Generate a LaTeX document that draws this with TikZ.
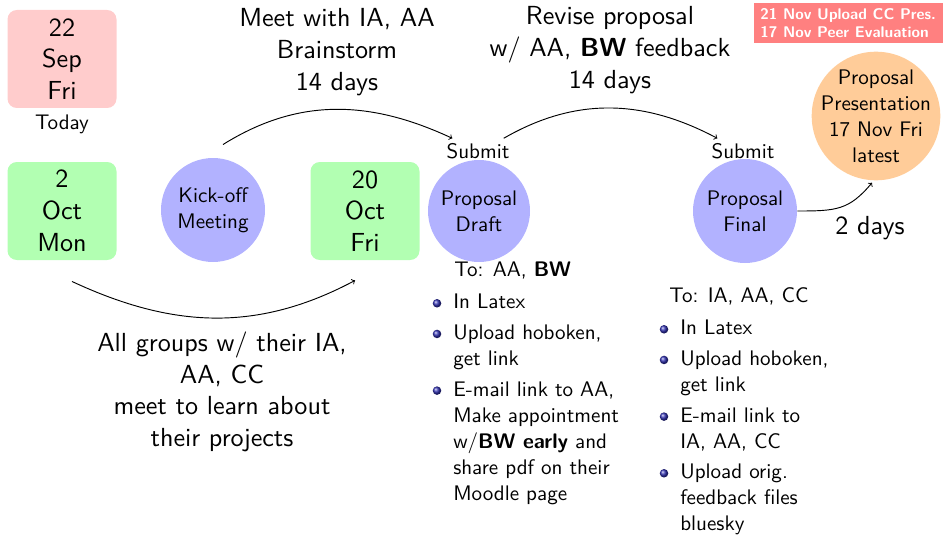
\documentclass[tikz,border=0pt]{standalone}
\usepackage{fontspec}
\setsansfont{lmsans10-regular}[Extension=.otf, BoldFont=lmsans10-bold]
\usepackage{tikz}

\definecolor{ballblue}{rgb}{0.2,0.2,0.7}
\newcommand{\bigtxt}{\sffamily\fontsize{19.6}{23.8}\selectfont}
\newcommand{\midtxt}{\sffamily\fontsize{15.8}{19.5}\selectfont}
\newcommand{\tagtxt}{\sffamily\bfseries\fontsize{11.6}{13.5}\selectfont}
\newcommand{\itemball}{\llap{\raisebox{1pt}{\tikz\shade[ball color=ballblue] (0,0) circle (3.2pt);}\hspace{9pt}}}

\tikzset{every picture/.style={line width=0.7pt}}
\tikzset{
  datebox/.style={rounded corners=7pt, minimum width=81.75pt, minimum height=73.5pt, inner sep=0, align=center, font=\bigtxt},
  stepcircle/.style={circle, fill=blue!30, minimum size=78pt, inner sep=0, align=center, font=\midtxt},
  bigtext/.style={align=center, font=\bigtxt},
  smalltext/.style={align=center, font=\midtxt},
  todolist/.style={align=left, font=\midtxt, anchor=north west, inner sep=0},
  timeline/.style={->, >=to}
}

\begin{document}
\begin{tikzpicture}[x=0.75pt,y=0.75pt,yscale=-1,xscale=1]
	\useasboundingbox (0,0) rectangle (943,535);

	%Shape: Date boxes
	\node [datebox, fill=red!20] (today) at (62,59) {22\\Sep\\Fri};
	\node [datebox, fill=green!30] (mon) at (62,211) {2\\Oct\\Mon};
	\node [datebox, fill=green!30] (oct20) at (365,211) {20\\Oct\\Fri};
	% Text Node
	\node [smalltext] (todaytxt) at (62,124) {Today};

	%Shape: Circles
	\node [stepcircle] (kickoff) at (213,210) {Kick-off\\Meeting};
	\node [stepcircle, minimum size=76.5pt] (draft) at (479,211) {Proposal\\Draft};
	\node [stepcircle] (final) at (745,211) {Proposal\\Final};
	\node [stepcircle, fill=orange!40, minimum size=93pt, inner sep=-4pt] (pres) at (876,116) {Proposal\\Presentation\\17 Nov Fri\\latest};

	% Text Node
	\node [smalltext] (subdraft) at (478,151) {Submit};
	\node [smalltext] (subfinal) at (743,151) {Submit};

	%Shape: Deadline tag
	\node [fill=red!50, text=white, font=\tagtxt, align=left, anchor=north east, inner xsep=5pt, inner ysep=4pt] (tag) at (943,3) {21 Nov Upload CC Pres.\\17 Nov Peer Evaluation};

	%Curve Lines
	\draw [timeline] ([shift={(10,-13)}]kickoff.north) to[out=-32,in=-155] ([xshift=8pt]subdraft.north west);
	\draw [timeline] ([xshift=-8pt]subdraft.north east) to[out=-30,in=-152] ([xshift=8pt]subfinal.north west);
	\draw [timeline, shorten >=2pt] (final.east) to[out=0,in=130,looseness=1.2] (pres.268);
	\draw [timeline] ([shift={(10,21)}]mon.south) to[out=25,in=152] ([shift={(-10,20)}]oct20.south);

	% Text Node
	\node [bigtext] (meet) at (337,52) {Meet with IA, AA\\Brainstorm\\14 days};
	\node [bigtext] (revise) at (610,50) {Revise proposal\\w/ AA, \textbf{BW} feedback\\14 days};
	\node [bigtext] (twodays) at (870,228) {2 days};
	\node [bigtext] (groups) at (222,392) {All groups w/ their IA,\\AA, CC\\meet to learn about\\their projects};

	% Text Node
	\node [smalltext, anchor=west, inner sep=0] (drafthead) at (454,271) {To: AA, \textbf{BW}};
	\node [todolist] (draftitems) at (453,294) {\itemball In Latex\\[3.5pt]
		\itemball Upload hoboken,\\get link\\[3.5pt]
		\itemball E-mail link to AA,\\Make appointment\\w/\textbf{BW early} and\\share pdf on their\\Moodle page};
	\node [smalltext, anchor=west, inner sep=0] (finalhead) at (669,296) {To: IA, AA, CC};
	\node [todolist] (finalitems) at (680,320) {\itemball In Latex\\[3.5pt]
		\itemball Upload hoboken,\\get link\\[3.5pt]
		\itemball E-mail link to\\IA, AA, CC\\[3.5pt]
		\itemball Upload orig.\\feedback files\\bluesky};

\end{tikzpicture}
\end{document}
